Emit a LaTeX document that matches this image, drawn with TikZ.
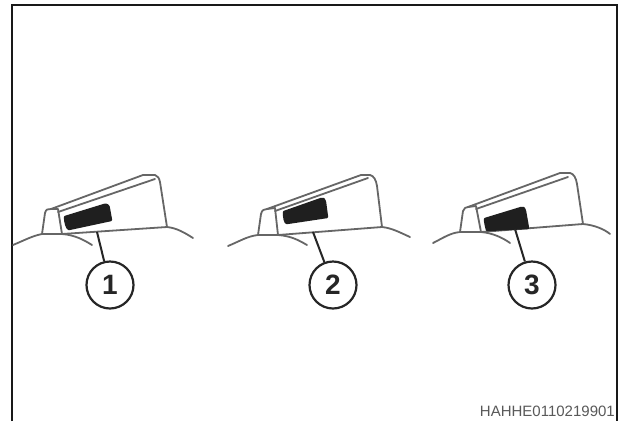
\documentclass[tikz,border=0pt]{standalone}
\usepackage{fontspec}
\setmainfont{Liberation Sans}
\tikzset{
  outline/.style={draw=black!60, line width=1.8pt, line join=round, line cap=round},
  leader/.style={draw=black!85, line width=2pt},
  callout/.style={circle, draw=black!85, line width=2.2pt, fill=white, minimum size=47pt, inner sep=0pt, font=\fontsize{28}{28}\selectfont\bfseries, text=black!85},
  patch/.style={fill=black!88, draw=black!88, line width=2.4pt, line join=round},
}
\begin{document}
\begin{tikzpicture}[x=1pt, y=-1pt]
  \useasboundingbox (0,0) rectangle (623,421);
  \fill[white] (0,0) rectangle (623,421);

  % Outer frame, open at the bottom
  \draw[line width=2.4pt, black!90] (12,421) -- (12,5) -- (617,5) -- (617,421);

  % Left panel
  \draw[outline] (13,245) .. controls (25,240) and (32,236) .. (42,234) -- (62,234) .. controls (75,235) and (84,240) .. (92,245);
  \draw[outline] (62,234) -- (167,227) .. controls (177,228) and (185,233) .. (193,238);
  \draw[outline] (42,234) -- (45,213) .. controls (46,209) and (48,209) .. (51,209) -- (58,209) -- (62,234);
  \draw[outline] (51,209) -- (143,175) -- (155,175) .. controls (158,176) and (159,178) .. (160,182) -- (167,227);
  \draw[outline] (58,212) -- (155,179);
  \draw[patch] (65,217) -- (104,205) .. controls (107,204) and (109,206) .. (109,209) -- (111,220) -- (69,229) .. controls (67,229) and (65,222) .. (65,217) -- cycle;
  \coordinate (base1) at (97,232);
  \node[callout] (call1) at (110,285) {1};
  \draw[leader] (base1) -- (call1);

  % Middle panel
  \draw[outline] (228,246) .. controls (240,241) and (248,236) .. (258,235) -- (278,235) .. controls (292,236) and (300,241) .. (307,245);
  \draw[outline] (278,235) -- (382,227) .. controls (392,228) and (401,233) .. (410,237);
  \draw[outline] (258,235) -- (261,214) .. controls (262,210) and (264,209) .. (267,209) -- (275,208) -- (278,235);
  \draw[outline] (267,209) -- (361,175) -- (370,175) .. controls (374,176) and (376,180) .. (377,186) -- (382,227);
  \draw[outline] (275,211) -- (368,178);
  \draw[patch] (284,212) -- (321,199) .. controls (323,198) and (324,199) .. (325,202) -- (327,217) -- (287,223) .. controls (285,223) and (284,218) .. (284,212) -- cycle;
  \coordinate (base2) at (313,232);
  \node[callout] (call2) at (333,285) {2};
  \draw[leader] (base2) -- (call2);

  % Right panel
  \draw[outline] (433,243) .. controls (443,238) and (450,233) .. (460,232) -- (481,232) .. controls (493,233) and (503,238) .. (510,243);
  \draw[outline] (481,232) -- (583,224) .. controls (594,225) and (604,229) .. (610,234);
  \draw[outline] (460,232) -- (463,211) .. controls (464,208) and (466,207) .. (468,207) -- (476,206) -- (481,232);
  \draw[outline] (468,207) -- (560,173) -- (570,173) .. controls (574,174) and (576,178) .. (577,184) -- (583,224);
  \draw[outline] (476,209) -- (568,177);
  \draw[patch] (485,219) -- (521,208) .. controls (523,207) and (524,208) .. (525,211) -- (528,228) -- (487,230) .. controls (486,226) and (485,222) .. (485,219) -- cycle;
  \coordinate (base3) at (515,229);
  \node[callout] (call3) at (532,285) {3};
  \draw[leader] (base3) -- (call3);

  % Figure code
  \node[anchor=east, inner sep=0pt, text=black!65, font=\fontsize{15}{15}\selectfont] (figcode) at (615,411) {HAHHE0110219901};
\end{tikzpicture}
\end{document}
